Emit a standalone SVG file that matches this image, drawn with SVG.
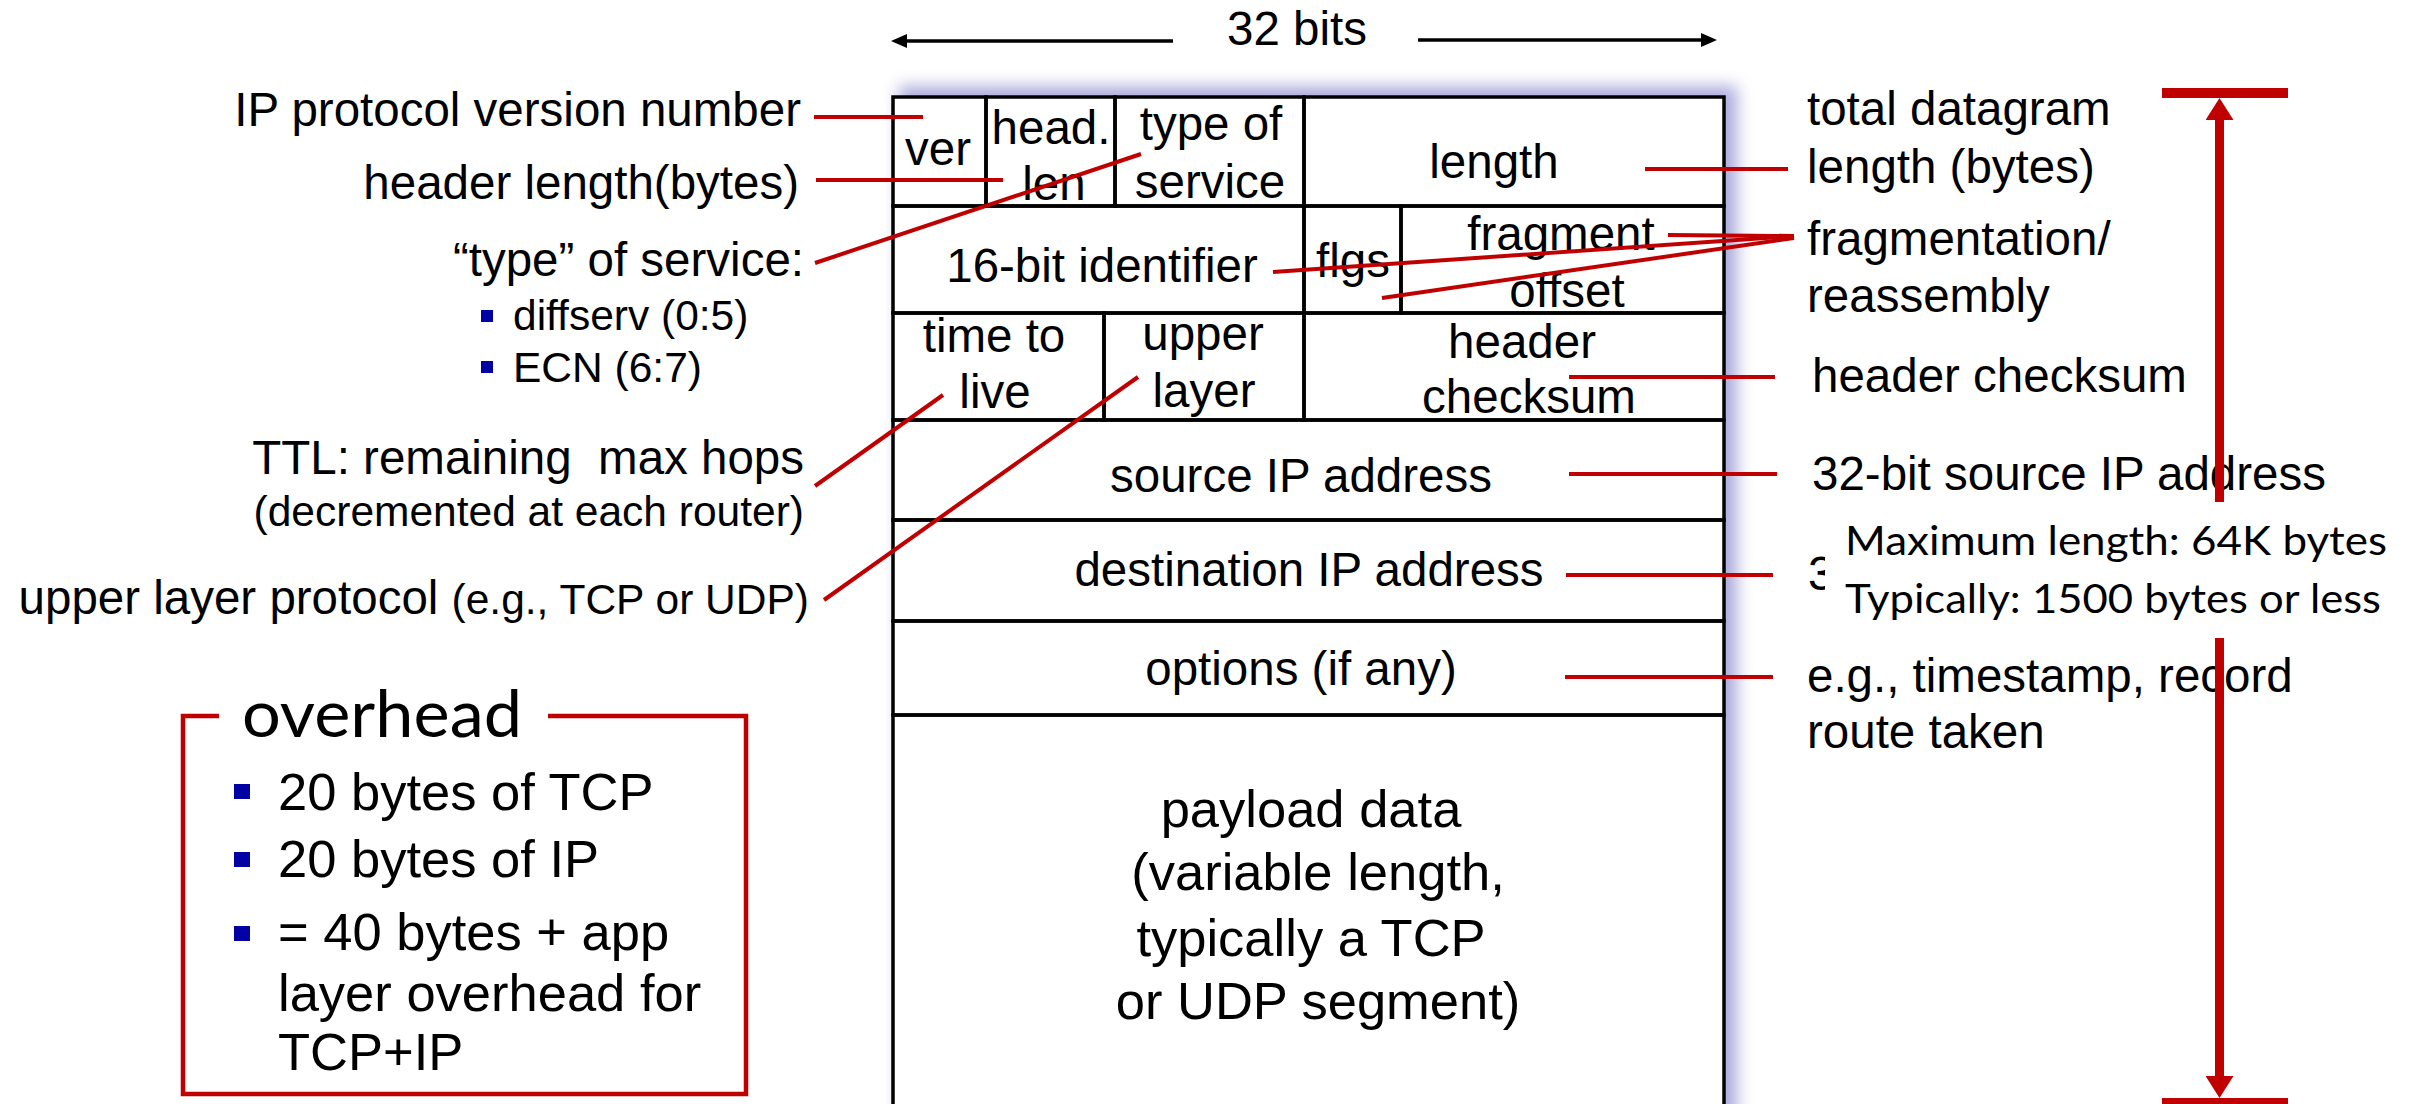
<svg xmlns="http://www.w3.org/2000/svg" width="2417" height="1104" viewBox="0 0 2417 1104">
<style>
  .t { font-family: "Liberation Sans", Arial, sans-serif; font-size: 47.5px; fill: #000; }
  .s { font-size: 42.5px; }
  .p { font-size: 52.5px; }
  .c { text-anchor: middle; }
  .e { text-anchor: end; }
  .cal { font-family: Lato, "Open Sans", sans-serif; fill: #000; }
  .cell { fill: none; stroke: #000; stroke-width: 3.5; }
  .lead { stroke: #C00000; stroke-width: 4; fill: none; }
  .bul { fill: #0000A3; }
</style>
<defs>
  <filter id="glow" x="-10%" y="-10%" width="120%" height="120%">
    <feGaussianBlur stdDeviation="8"/>
  </filter>
  <marker id="blk" markerUnits="userSpaceOnUse" markerWidth="16" markerHeight="14" refX="0" refY="7" orient="auto">
    <path d="M0,0 L16,7 L0,14 z" fill="#000"/>
  </marker>
  <marker id="red" markerUnits="userSpaceOnUse" markerWidth="22" markerHeight="28" refX="0" refY="14" orient="auto">
    <path d="M0,0 L22,14 L0,28 z" fill="#C00000"/>
  </marker>
</defs>
<rect width="2417" height="1104" fill="#fff"/>

<!-- 32 bits header -->
<g id="width-label">
  <text class="t c" x="1297" y="45">32 bits</text>
</g>

<!-- packet box -->
<g id="packet">
  <rect x="899" y="86" width="838" height="1040" fill="#8888CC" opacity="0.7" filter="url(#glow)"/>
  <rect x="893" y="97" width="831" height="1030" fill="#fff"/>
  <g id="f-ver"><rect class="cell" x="893" y="97" width="93" height="109"/><text class="t c" x="938" y="165">ver</text></g>
  <g id="f-hlen"><rect class="cell" x="986" y="97" width="129" height="109"/><text class="t c" x="1051" y="144">head.</text><text class="t c" x="1054" y="200">len</text></g>
  <g id="f-tos"><rect class="cell" x="1115" y="97" width="189" height="109"/><text class="t c" x="1211" y="140">type of</text><text class="t c" x="1210" y="198">service</text></g>
  <g id="f-length"><rect class="cell" x="1304" y="97" width="420" height="109"/><text class="t c" x="1494" y="178">length</text></g>
  <g id="f-id"><rect class="cell" x="893" y="206" width="411" height="107"/><text class="t c" x="1102" y="282">16-bit identifier</text></g>
  <g id="f-flgs"><rect class="cell" x="1304" y="206" width="97" height="107"/><text class="t c" x="1353" y="277">flgs</text></g>
  <g id="f-offset"><rect class="cell" x="1401" y="206" width="323" height="107"/><text class="t c" x="1561" y="250">fragment</text><text class="t c" x="1567" y="307">offset</text></g>
  <g id="f-ttl"><rect class="cell" x="893" y="313" width="211" height="107"/><text class="t c" x="994" y="352">time to</text><text class="t c" x="995" y="408">live</text></g>
  <g id="f-proto"><rect class="cell" x="1104" y="313" width="200" height="107"/><text class="t c" x="1203" y="350">upper</text><text class="t c" x="1204" y="407">layer</text></g>
  <g id="f-cksum"><rect class="cell" x="1304" y="313" width="420" height="107"/><text class="t c" x="1522" y="358">header</text><text class="t c" x="1529" y="413">checksum</text></g>
  <g id="f-src"><rect class="cell" x="893" y="420" width="831" height="100"/><text class="t c" x="1301" y="492">source IP address</text></g>
  <g id="f-dst"><rect class="cell" x="893" y="520" width="831" height="101"/><text class="t c" x="1309" y="586">destination IP address</text></g>
  <g id="f-opt"><rect class="cell" x="893" y="621" width="831" height="94"/><text class="t c" x="1301" y="685">options (if any)</text></g>
  <g id="f-payload"><rect class="cell" x="893" y="715" width="831" height="420"/>
    <text class="t p c" x="1311" y="827">payload data</text>
    <text class="t p c" x="1318" y="890">(variable length,</text>
    <text class="t p c" x="1311" y="956">typically a TCP</text>
    <text class="t p c" x="1318" y="1019">or UDP segment)</text>
  </g>
</g>

<!-- left labels -->
<g id="l-ver"><text class="t e" x="801" y="126">IP protocol version number</text></g>
<g id="l-hlen"><text class="t e" x="799" y="199">header length(bytes)</text></g>
<g id="l-tos">
  <text class="t e" x="804" y="276">“type” of service:</text>
  <rect class="bul" x="481" y="310" width="12" height="12"/>
  <text class="t s" x="513" y="330">diffserv (0:5)</text>
  <rect class="bul" x="481" y="361" width="12" height="12"/>
  <text class="t s" x="513" y="382">ECN (6:7)</text>
</g>
<g id="l-ttl">
  <text class="t e" x="804" y="474" xml:space="preserve">TTL: remaining  max hops</text>
  <text class="t s e" x="804" y="526">(decremented at each router)</text>
</g>
<g id="l-proto"><text class="t e" x="809" y="614">upper layer protocol <tspan class="s">(e.g., TCP or UDP)</tspan></text></g>

<!-- overhead box -->
<g id="overhead">
  <path d="M219,716 H183 V1094 H746 V716 H548" fill="none" stroke="#C00000" stroke-width="4.5"/>
  <text class="cal" x="242" y="737" font-size="66" textLength="280" lengthAdjust="spacingAndGlyphs">overhead</text>
  <rect class="bul" x="234" y="784" width="16" height="15"/>
  <text class="t p" x="278" y="810">20 bytes of TCP</text>
  <rect class="bul" x="234" y="852" width="16" height="15"/>
  <text class="t p" x="278" y="877">20 bytes of IP</text>
  <rect class="bul" x="234" y="926" width="16" height="15"/>
  <text class="t p" x="278" y="950">= 40 bytes + app</text>
  <text class="t p" x="278" y="1011">layer overhead for</text>
  <text class="t p" x="278" y="1070">TCP+IP</text>
</g>

<!-- right labels -->
<g id="r-length"><text class="t" x="1807" y="125">total datagram</text><text class="t" x="1807" y="183">length (bytes)</text></g>
<g id="r-frag"><text class="t" x="1807" y="255">fragmentation/</text><text class="t" x="1807" y="312">reassembly</text></g>
<g id="r-cksum"><text class="t" x="1812" y="392">header checksum</text></g>
<g id="r-src"><text class="t" x="1812" y="490">32-bit source IP address</text></g>
<g id="r-dst"><text class="t" x="1808" y="590">3</text></g>
<g id="r-opt"><text class="t" x="1807" y="692">e.g., timestamp, record</text><text class="t" x="1807" y="748">route taken</text></g>

<!-- connectors -->
<g id="connectors">
  <line x1="1173" y1="41" x2="907" y2="41" stroke="#000" stroke-width="3.5" marker-end="url(#blk)"/>
  <line x1="1418" y1="40" x2="1701" y2="40" stroke="#000" stroke-width="3.5" marker-end="url(#blk)"/>
  <line class="lead" x1="814" y1="117" x2="923" y2="117"/>
  <line class="lead" x1="816" y1="180" x2="1003" y2="180"/>
  <line class="lead" x1="815" y1="263" x2="1141" y2="154"/>
  <line class="lead" x1="815" y1="486" x2="943" y2="395"/>
  <line class="lead" x1="824" y1="600" x2="1138" y2="377"/>
  <line class="lead" x1="1645" y1="169" x2="1788" y2="169"/>
  <line class="lead" x1="1668" y1="235" x2="1794" y2="236"/>
  <line class="lead" x1="1273" y1="272" x2="1794" y2="236"/>
  <line class="lead" x1="1382" y1="298" x2="1794" y2="238"/>
  <line class="lead" x1="1569" y1="377" x2="1775" y2="377"/>
  <line class="lead" x1="1569" y1="474" x2="1777" y2="474"/>
  <line class="lead" x1="1566" y1="575" x2="1773" y2="575"/>
  <line class="lead" x1="1565" y1="677" x2="1773" y2="677"/>
  <!-- total length arrow -->
  <rect x="2162" y="88" width="126" height="10" fill="#C00000"/>
  <line x1="2219.5" y1="510" x2="2219.5" y2="120" stroke="#C00000" stroke-width="9" marker-end="url(#red)"/>
  <line x1="2219.5" y1="630" x2="2219.5" y2="1076" stroke="#C00000" stroke-width="9" marker-end="url(#red)"/>
  <rect x="2162" y="1098" width="126" height="10" fill="#C00000"/>
</g>

<!-- max length note -->
<g id="maxlen-note">
  <rect x="1825" y="502" width="592" height="136" fill="#fff"/>
  <text class="cal" x="1845" y="555" font-size="40" textLength="542" lengthAdjust="spacingAndGlyphs">Maximum length: 64K bytes</text>
  <text class="cal" x="1845" y="613" font-size="40" textLength="536" lengthAdjust="spacingAndGlyphs">Typically: 1500 bytes or less</text>
</g>
</svg>
